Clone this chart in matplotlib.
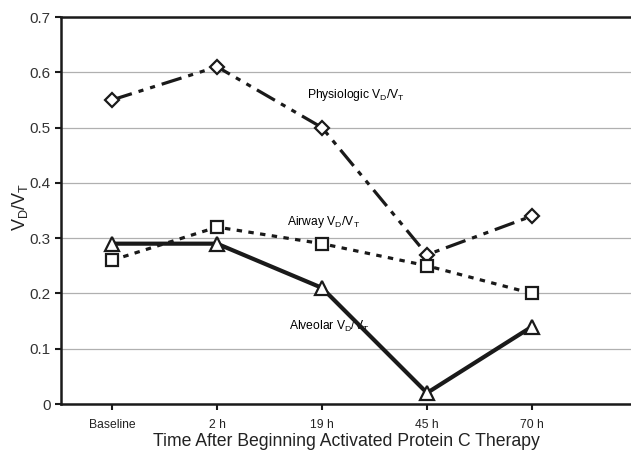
import matplotlib
matplotlib.use("Agg")
import matplotlib.pyplot as plt

plt.rcParams["font.family"] = ["Liberation Sans", "DejaVu Sans"]
plt.rcParams["mathtext.fontset"] = "custom"
plt.rcParams["mathtext.rm"] = "Liberation Sans"

categories = ["Baseline", "2 h", "19 h", "45 h", "70 h"]
physiologic = [0.55, 0.61, 0.50, 0.27, 0.34]
airway = [0.26, 0.32, 0.29, 0.25, 0.20]
alveolar = [0.29, 0.29, 0.21, 0.02, 0.14]

VDVT = r"V$_\mathregular{D}$/V$_\mathregular{T}$"


def main():
    fig = plt.figure(figsize=(6.31, 4.54), dpi=100)
    ax = fig.add_axes([61 / 631, 1 - 404 / 454, 1 - 61 / 631, (404 - 17) / 454])
    x = list(range(len(categories)))

    ax.plot(x, physiologic, color="#1a1a1a", lw=2.3,
            linestyle=(0, (6.5, 2.2, 1.6, 2.2, 1.6, 2.2)),
            marker="D", markersize=7.5, markerfacecolor="white",
            markeredgecolor="#1a1a1a", markeredgewidth=1.6, zorder=3)
    ax.plot(x, airway, color="#1a1a1a", lw=2.3,
            linestyle=(0, (1.7, 2.0)),
            marker="s", markersize=8.5, markerfacecolor="white",
            markeredgecolor="#1a1a1a", markeredgewidth=1.6, zorder=3)
    ax.plot(x, alveolar, color="#1a1a1a", lw=3.0, linestyle="-",
            marker="^", markersize=10, markerfacecolor="white",
            markeredgecolor="#1a1a1a", markeredgewidth=1.6, zorder=4)

    # line labels
    ax.text(1.86, 0.559, "Physiologic " + VDVT, fontsize=8.7, va="center")
    ax.text(1.67, 0.329, "Airway " + VDVT, fontsize=8.7, va="center")
    ax.text(1.69, 0.141, "Alveolar " + VDVT, fontsize=8.7, va="center")

    ax.set_xlim(-0.486, 4.943)
    ax.set_ylim(0, 0.7)
    ax.set_xticks(x)
    ax.set_xticklabels(categories, fontsize=8.7, color="#222222")
    ax.set_yticks([0, 0.1, 0.2, 0.3, 0.4, 0.5, 0.6, 0.7])
    ax.set_yticklabels(["0", "0.1", "0.2", "0.3", "0.4", "0.5", "0.6", "0.7"],
                       fontsize=11, color="#333333")
    ax.yaxis.grid(True, color="#b0b0b0", lw=0.9)
    ax.set_axisbelow(True)
    ax.spines["right"].set_visible(False)
    for s in ["left", "bottom", "top"]:
        ax.spines[s].set_linewidth(1.8)
        ax.spines[s].set_color("#1a1a1a")
    ax.tick_params(axis="both", direction="out", width=1.5, length=4,
                   color="#1a1a1a")
    ax.tick_params(axis="x", pad=7)

    ax.set_xlabel("Time After Beginning Activated Protein C Therapy",
                  fontsize=12.7, color="#222222", labelpad=1)
    ax.set_ylabel(r"V$_\mathregular{D}$/V$_\mathregular{T}$", fontsize=13,
                  color="#222222")
    ax.yaxis.set_label_coords(-0.054, 0.51)

    fig.savefig("out.png", dpi=100)


if __name__ == "__main__":
    main()
